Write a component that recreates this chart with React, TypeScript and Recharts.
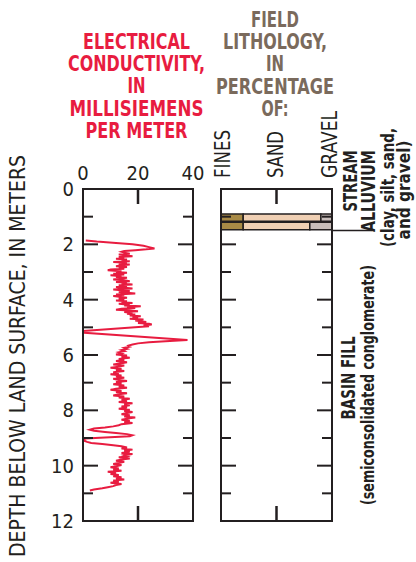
import React from 'react';
import { LineChart, Line, XAxis, YAxis, BarChart, Bar, ReferenceLine } from 'recharts';

// depth axis (meters) and value axes
const depthTicks = [0, 1, 2, 3, 4, 5, 6, 7, 8, 9, 10, 11, 12];
const ecTicks = [0, 20, 40];
const pctTicks = [0, 50, 100];

// electrical conductivity log
const logDepth = [
  1.86, 1.9, 1.95, 2.0, 2.05, 2.1, 2.15, 2.18, 2.21, 2.24, 2.27,
  2.3, 2.34, 2.37, 2.4, 2.43, 2.46, 2.49, 2.52, 2.55, 2.58, 2.61, 2.64, 2.67, 2.7, 2.73, 2.76, 2.79,
  2.82, 2.85, 2.88, 2.91, 2.94, 2.97, 3.0, 3.03, 3.06, 3.09, 3.12, 3.15, 3.18, 3.21, 3.24, 3.27,
  3.3, 3.33, 3.36, 3.39, 3.42, 3.45, 3.48, 3.51, 3.54, 3.57, 3.6, 3.63, 3.66, 3.69, 3.72, 3.75,
  3.78, 3.81, 3.84, 3.87, 3.9, 3.93, 3.96, 4.0, 4.03, 4.06, 4.09, 4.12, 4.15, 4.18, 4.21, 4.24,
  4.27, 4.3, 4.33, 4.36, 4.39, 4.42, 4.45, 4.48, 4.51, 4.54, 4.57, 4.6, 4.63, 4.66, 4.69, 4.72,
  4.75, 4.78, 4.81, 4.84, 4.87, 4.9, 4.93, 4.96, 5.13, 5.2, 5.46, 5.5, 5.54, 5.58, 5.62, 5.66,
  5.7, 5.74, 5.78, 5.82, 5.86, 5.9, 5.94, 5.98, 6.02, 6.06, 6.1, 6.14, 6.18, 6.22, 6.26, 6.3,
  6.34, 6.38, 6.42, 6.46, 6.5, 6.54, 6.58, 6.62, 6.66, 6.7, 6.74, 6.78, 6.82, 6.86, 6.9, 6.94,
  6.98, 7.02, 7.06, 7.1, 7.14, 7.18, 7.22, 7.26, 7.3, 7.34, 7.38, 7.42, 7.46, 7.5, 7.54, 7.58,
  7.62, 7.66, 7.7, 7.74, 7.78, 7.82, 7.86, 7.9, 7.94, 7.98, 8.02, 8.06, 8.1, 8.14, 8.18, 8.22,
  8.26, 8.3, 8.34, 8.38, 8.42, 8.46, 8.5, 8.54, 8.58, 8.62, 8.66, 8.7, 8.74, 8.78, 8.82, 8.86,
  8.9, 8.94, 8.98, 9.02, 9.06, 9.1, 9.14, 9.18, 9.22, 9.26, 9.3, 9.34, 9.38, 9.42, 9.46, 9.5,
  9.54, 9.58, 9.62, 9.66, 9.7, 9.74, 9.78, 9.82, 9.86, 9.9, 9.94, 9.98, 10.02, 10.06, 10.1, 10.14,
  10.18, 10.22, 10.26, 10.3, 10.34, 10.38, 10.42, 10.46, 10.5, 10.54, 10.58, 10.62, 10.66, 10.7,
  10.74, 10.78, 10.82, 10.86, 10.9,
];
const logEc = [
  1, 5, 12, 18, 22, 24, 26, 23, 19, 15, 14,
  15, 17, 13, 16, 18, 13, 15, 12, 16, 14, 17, 11, 16, 13, 17, 14, 12,
  16, 13, 15, 10, 9, 14, 12, 16, 11, 15, 10, 14, 12, 16, 13, 11,
  15, 17, 12, 16, 14, 18, 13, 16, 12, 15, 18, 11, 14, 17, 13, 16,
  19, 12, 15, 11, 14, 16, 13, 15, 12, 16, 14, 18, 13, 17, 15, 21,
  16, 19, 14, 12, 17, 20, 15, 18, 16, 19, 17, 21, 18, 20, 17, 22,
  19, 21, 23, 20, 24, 25, 22, 24, 0, 0.5, 38, 30, 24, 20, 18, 16.5,
  17, 15, 16, 14, 15, 13, 14, 12, 16, 14, 17, 13, 15, 12, 16, 14,
  11, 15, 13, 10, 14, 12, 15, 11, 13, 10, 14, 12, 15, 11, 13, 16,
  12, 14, 11, 15, 13, 16, 12, 10, 14, 12, 16, 13, 11, 15, 13, 17,
  14, 16, 13, 18, 15, 17, 14, 16, 13, 17, 15, 18, 16, 14, 17, 15,
  19, 16, 14, 17, 15, 18, 14, 13, 11, 8, 4, 2.5, 4, 8, 12, 16,
  18, 17, 8, 1, 0, 0.5, 1.5, 3, 7, 11, 14, 16, 14, 18, 15, 17,
  14, 18, 15, 16, 13, 17, 14, 12, 15, 13, 11, 14, 12, 10, 13, 11,
  14, 9, 12, 10, 13, 11, 14, 12, 15, 11, 13, 10, 14, 12,
  11, 9, 7, 4, 2.5,
];

// field lithology intervals (m) and percentages
const lithoTop = [0.9, 1.2];
const lithoBase = [1.2, 1.5];
const finesPct = [20, 20];
const sandPct = [70, 60];
const gravelPct = [10, 20];
const alluviumBase = 1.5;

const FONT = "'Liberation Sans Narrow', 'Arial Narrow', 'DejaVu Sans Condensed', sans-serif";
const INK = '#231f20';
const RED = '#e81c40';
const BROWN = '#7a6a5c';
const boxLine = { stroke: INK, strokeWidth: 2, strokeLinecap: 'square' as const };

const PLOT_TOP = 189;
const PLOT_H = 332;
const DEPTH_MAX = 12;
const CHART_W = 216;
const LITHO_LEFT = 200;
const LOG_MARGIN = { top: PLOT_TOP - 1, right: 22, bottom: 562 - PLOT_TOP - PLOT_H - 1, left: 82 };
const LITHO_MARGIN = { top: PLOT_TOP - 1, right: 83, bottom: 562 - PLOT_TOP - PLOT_H - 1, left: 20 };
const plotWidth = (m: { left: number; right: number }) => CHART_W - m.left - m.right - 2;

const logRows = logDepth.map((depth, i) => ({ depth, ec: logEc[i] }));
const lithoRows = lithoTop.map((top, i) => ({
  mid: (top + lithoBase[i]) / 2,
  fines: finesPct[i],
  sand: sandPct[i],
  gravel: gravelPct[i],
}));
// bar thickness = interval thickness on the depth scale
const lithoBarSize = ((lithoBase[0] - lithoTop[0]) / DEPTH_MAX) * PLOT_H;

// x of the middle tick on each panel's top and bottom edge
const logMidX = LOG_MARGIN.left + 1 + plotWidth(LOG_MARGIN) * (ecTicks[1] / ecTicks[2]);
const lithoMidX = LITHO_LEFT + LITHO_MARGIN.left + 1 + plotWidth(LITHO_MARGIN) * (pctTicks[1] / pctTicks[2]);

// inward depth ticks, labels on even meters for the left side of the log
const DepthTick = (props: any) => {
  const { x, y, payload, side, labels } = props;
  const v = Number(payload.value);
  const major = v % 2 === 0;
  const len = major ? 15 : 10;
  const dir = side === 'left' ? 1 : -1;
  const edge = v === 0 || v === DEPTH_MAX;
  return (
    <g>
      {!edge && <line x1={x} x2={x + dir * len} y1={y} y2={y} stroke={INK} strokeWidth={2} />}
      {labels && major && (
        <text x={x - 9} y={y + 7} textAnchor="end" fontFamily={FONT} fontSize={20} fill={INK}>
          {v}
        </text>
      )}
    </g>
  );
};

const ValueLabel = (props: any) => {
  const { x, y, payload } = props;
  return (
    <text x={x} y={Number(y) - 9} textAnchor="middle" fontFamily={FONT} fontSize={20} fill={INK}>
      {payload.value}
    </text>
  );
};

const VText = ({ x, y, children, len, size = 19, bold = false, anchor = 'middle', color = INK }: any) => (
  <text
    transform={`translate(${x},${y}) rotate(-90)`}
    textAnchor={anchor}
    fontFamily={FONT}
    fontSize={size}
    fontWeight={bold ? 700 : 400}
    fill={color}
    textLength={len}
    lengthAdjust={len ? 'spacingAndGlyphs' : undefined}
  >
    {children}
  </text>
);

const EdgeTicks = ({ x }: { x: number }) => (
  <g>
    <line x1={x} x2={x} y1={PLOT_TOP} y2={PLOT_TOP + 15} stroke={INK} strokeWidth={2.5} />
    <line x1={x} x2={x} y1={PLOT_TOP + PLOT_H - 15} y2={PLOT_TOP + PLOT_H} stroke={INK} strokeWidth={2.5} />
  </g>
);

const ecTitle = ['ELECTRICAL', 'CONDUCTIVITY,', 'IN', 'MILLISIEMENS', 'PER METER'];
const ecTitleLen = [107, 137, 18, 134, 102];
const lithoTitle = ['FIELD', 'LITHOLOGY,', 'IN', 'PERCENTAGE', 'OF:'];
const lithoTitleLen = [48, 104, 18, 118, 27];

// shared axis props: 1px thick axes so the plot box sits on the margins
const flat = { tickSize: 0, tickMargin: 0, interval: 0 as const, tickLine: false, axisLine: boxLine, allowDataOverflow: true };

export default function App() {
  return (
    <div style={{ position: 'absolute', left: 0, top: 0, width: 416, height: 562, background: '#fff' }}>
      <div style={{ position: 'absolute', left: 0, top: 0 }}>
        <LineChart width={CHART_W} height={562} data={logRows} layout="vertical" margin={LOG_MARGIN}>
          <XAxis
            {...flat}
            xAxisId="top"
            orientation="top"
            type="number"
            dataKey="ec"
            domain={[0, 40]}
            ticks={ecTicks}
            height={1}
            tick={(p: any) => <ValueLabel {...p} />}
          />
          <XAxis
            {...flat}
            xAxisId="bottom"
            orientation="bottom"
            type="number"
            dataKey="ec"
            domain={[0, 40]}
            ticks={ecTicks}
            height={1}
            tick={false}
          />
          <YAxis
            {...flat}
            yAxisId="left"
            orientation="left"
            type="number"
            dataKey="depth"
            domain={[0, DEPTH_MAX]}
            ticks={depthTicks}
            width={1}
            tick={(p: any) => <DepthTick {...p} side="left" labels />}
          />
          <YAxis
            {...flat}
            yAxisId="right"
            orientation="right"
            type="number"
            dataKey="depth"
            domain={[0, DEPTH_MAX]}
            ticks={depthTicks}
            width={1}
            tick={(p: any) => <DepthTick {...p} side="right" />}
          />
          <Line
            xAxisId="top"
            yAxisId="left"
            dataKey="ec"
            type="linear"
            stroke={RED}
            strokeWidth={2}
            dot={false}
            isAnimationActive={false}
          />
        </LineChart>
      </div>

      <div style={{ position: 'absolute', left: LITHO_LEFT, top: 0 }}>
        <BarChart
          width={CHART_W}
          height={562}
          data={lithoRows}
          layout="vertical"
          barCategoryGap={0}
          margin={LITHO_MARGIN}
        >
          <XAxis
            {...flat}
            xAxisId="top"
            orientation="top"
            type="number"
            domain={[0, 100]}
            ticks={pctTicks}
            height={1}
            tick={false}
          />
          <XAxis
            {...flat}
            xAxisId="bottom"
            orientation="bottom"
            type="number"
            domain={[0, 100]}
            ticks={pctTicks}
            height={1}
            tick={false}
          />
          <YAxis
            {...flat}
            yAxisId="left"
            orientation="left"
            type="number"
            dataKey="mid"
            domain={[0, DEPTH_MAX]}
            ticks={depthTicks}
            width={1}
            tick={(p: any) => <DepthTick {...p} side="left" />}
          />
          <YAxis
            {...flat}
            yAxisId="right"
            orientation="right"
            type="number"
            dataKey="mid"
            domain={[0, DEPTH_MAX]}
            ticks={depthTicks}
            width={1}
            tick={(p: any) => <DepthTick {...p} side="right" />}
          />
          <Bar xAxisId="top" yAxisId="left" dataKey="fines" stackId="l" barSize={lithoBarSize} fill="#a88a46" stroke={INK} strokeWidth={1.5} isAnimationActive={false} />
          <Bar xAxisId="top" yAxisId="left" dataKey="sand" stackId="l" barSize={lithoBarSize} fill="#f0d0b4" stroke={INK} strokeWidth={1.5} isAnimationActive={false} />
          <Bar xAxisId="top" yAxisId="left" dataKey="gravel" stackId="l" barSize={lithoBarSize} fill="#c8bdba" stroke={INK} strokeWidth={1.5} isAnimationActive={false} />
          <ReferenceLine
            xAxisId="top"
            yAxisId="left"
            segment={[
              { x: 100, y: alluviumBase },
              { x: 136, y: alluviumBase },
            ]}
            ifOverflow="visible"
            stroke={INK}
            strokeWidth={1.5}
          />
        </BarChart>
      </div>

      <svg
        width={416}
        height={562}
        style={{ position: 'absolute', left: 0, top: 0, pointerEvents: 'none' }}
      >
        <EdgeTicks x={logMidX} />
        <EdgeTicks x={lithoMidX} />
        {ecTitle.map((t, i) => (
          <text
            key={t}
            x={136.5}
            y={48.5 + i * 22.4}
            textAnchor="middle"
            fontFamily={FONT}
            fontSize={21}
            fontWeight={700}
            fill={RED}
            textLength={ecTitleLen[i]}
            lengthAdjust="spacingAndGlyphs"
          >
            {t}
          </text>
        ))}
        {lithoTitle.map((t, i) => (
          <text
            key={t}
            x={275}
            y={26.5 + i * 22.4}
            textAnchor="middle"
            fontFamily={FONT}
            fontSize={21}
            fontWeight={700}
            fill={BROWN}
            textLength={lithoTitleLen[i]}
            lengthAdjust="spacingAndGlyphs"
          >
            {t}
          </text>
        ))}
        <VText x={25} y={356} size={21} len={402}>DEPTH BELOW LAND SURFACE, IN METERS</VText>
        <VText x={230} y={178} size={21} len={48} anchor="start">FINES</VText>
        <VText x={283} y={178} size={21} len={47} anchor="start">SAND</VText>
        <VText x={337} y={178} size={21} len={67} anchor="start">GRAVEL</VText>
        <VText x={357} y={181} bold len={61}>STREAM</VText>
        <VText x={375} y={191} bold len={82}>ALLUVIUM</VText>
        <VText x={394} y={187.5} bold size={18} len={119}>(clay, silt, sand,</VText>
        <VText x={410} y={190} bold size={17}>and gravel)</VText>
        <VText x={355} y={378} bold len={83}>BASIN FILL</VText>
        <VText x={374} y={385} bold size={18} len={240}>(semiconsolidated conglomerate)</VText>
      </svg>
    </div>
  );
}
